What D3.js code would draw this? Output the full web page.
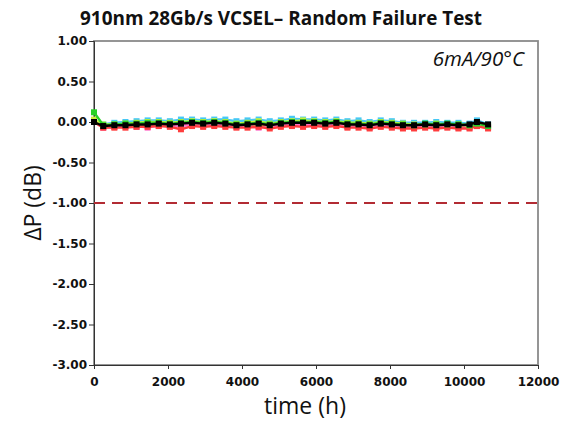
<!DOCTYPE html>
<html lang="en">
<head>
  <meta charset="UTF-8">
  <title>910nm 28Gb/s VCSEL – Random Failure Test</title>
  <style>
    body { margin: 0; background: #fff; }
    .tick text { font: bold 12px "DejaVu Sans", Arial, sans-serif; fill: #111; }
    .tick line, .domain { stroke: #333; }
    .title { font: bold 19px "Open Sans", Arial, sans-serif; fill: #111; }
    .alabel { font: 23px "Open Sans", Arial, sans-serif; fill: #111; }
    .note { font: italic 20.5px "Open Sans", Arial, sans-serif; fill: #111; }
  </style>
</head>
<body>
  <svg id="chart" width="571" height="422"></svg>

  <script src="https://d3js.org/d3.v7.min.js"></script>
  <script>
    // time points (h)
    const TIME = [0, 250, 550, 850, 1150, 1450, 1750, 2050, 2350, 2650, 2950, 3250, 3550, 3850,
      4150, 4450, 4750, 5050, 5350, 5650, 5950, 6250, 6550, 6850, 7150, 7450, 7750, 8050,
      8350, 8650, 8950, 9250, 9550, 9850, 10150, 10350, 10650];

    // ΔP (dB) per device
    const CYAN = [0.02, -0.03, -0.01, 0.00, 0.01, 0.02, 0.02, 0.01, 0.03, 0.03, 0.02, 0.03, 0.03, 0.01,
      0.02, 0.03, 0.01, 0.02, 0.04, 0.03, 0.03, 0.02, 0.03, 0.01, 0.02, 0.00, 0.02, 0.01,
      -0.01, -0.01, -0.01, 0.00, -0.01, -0.01, -0.02, 0.02, -0.03];
    const LIME = [0.03, -0.03, -0.03, -0.02, -0.01, 0.00, 0.00, -0.01, 0.00, 0.01, 0.00, 0.01, 0.00, -0.02,
      -0.01, 0.01, -0.02, 0.00, 0.01, 0.02, 0.01, 0.00, 0.01, -0.01, -0.01, -0.02, 0.00, -0.01,
      -0.02, -0.03, -0.03, -0.02, -0.03, -0.03, -0.04, -0.01, -0.04];
    const PURPLE = [0.01, -0.06, -0.05, -0.04, -0.06, -0.03, -0.05, -0.04, -0.05, -0.03, -0.04, -0.03, -0.04, -0.05,
      -0.04, -0.04, -0.05, -0.04, -0.03, -0.04, -0.03, -0.04, -0.03, -0.05, -0.05, -0.06, -0.04, -0.05,
      -0.06, -0.06, -0.05, -0.06, -0.05, -0.06, -0.06, -0.03, -0.06];
    const ORANGE = [0.00, -0.06, -0.06, -0.05, -0.04, -0.04, -0.03, -0.04, -0.03, -0.02, -0.03, -0.03, -0.04, -0.05,
      -0.05, -0.04, -0.05, -0.04, -0.03, -0.03, -0.03, -0.04, -0.03, -0.05, -0.05, -0.06, -0.04, -0.05,
      -0.05, -0.06, -0.05, -0.06, -0.05, -0.06, -0.06, -0.05, -0.06];
    const PINK = [0.00, -0.07, -0.06, -0.05, -0.05, -0.07, -0.04, -0.05, -0.04, -0.04, -0.05, -0.03, -0.04, -0.06,
      -0.05, -0.07, -0.06, -0.04, -0.04, -0.03, -0.04, -0.05, -0.03, -0.06, -0.05, -0.07, -0.04, -0.06,
      -0.07, -0.07, -0.06, -0.07, -0.06, -0.07, -0.07, -0.04, -0.07];
    const RED = [0.00, -0.07, -0.07, -0.07, -0.06, -0.06, -0.05, -0.06, -0.09, -0.05, -0.06, -0.05, -0.06, -0.07,
      -0.07, -0.06, -0.08, -0.06, -0.05, -0.06, -0.05, -0.06, -0.05, -0.07, -0.07, -0.08, -0.06, -0.07,
      -0.08, -0.08, -0.07, -0.08, -0.07, -0.08, -0.08, -0.05, -0.08];
    const GREEN = [0.12, -0.04, -0.03, -0.02, -0.02, -0.01, -0.01, -0.02, -0.01, 0.00, -0.01, 0.00, -0.01, -0.03,
      -0.02, -0.01, -0.03, -0.01, 0.00, 0.00, 0.00, -0.01, 0.00, -0.02, -0.02, -0.03, -0.01, -0.02,
      -0.03, -0.04, -0.02, -0.03, -0.02, -0.03, -0.04, -0.02, -0.05];
    const BLACK = [0.00, -0.05, -0.04, -0.04, -0.03, -0.03, -0.02, -0.03, -0.02, -0.01, -0.02, -0.01, -0.02, -0.04,
      -0.03, -0.02, -0.04, -0.02, -0.01, -0.01, -0.01, -0.02, -0.01, -0.03, -0.03, -0.04, -0.02, -0.03,
      -0.04, -0.04, -0.03, -0.04, -0.03, -0.04, -0.03, 0.00, -0.03];

    const SERIES = [
      {vals: CYAN,   color: "#45c8f5"},
      {vals: PURPLE, color: "#b49be6"},
      {vals: ORANGE, color: "#ff9a3c"},
      {vals: PINK,   color: "#ff6ec8"},
      {vals: RED,    color: "#ff3c3c"},
      {vals: LIME,   color: "#c8f03c"},
      {vals: GREEN,  color: "#28d228"},
      {vals: BLACK,  color: "#000000"}
    ];
    const X_TICKS = [0, 2000, 4000, 6000, 8000, 10000, 12000];
    const Y_TICKS = [1, 0.5, 0, -0.5, -1, -1.5, -2, -2.5, -3];
    const LIMIT = -1;

    const svg = d3.select('#chart');
    const L = 94, R = 538, T = 41, B = 365;
    const x = d3.scaleLinear().domain([0, 12000]).range([L, R]);
    const y = d3.scaleLinear().domain([-3, 1]).range([B, T]);

    // frame
    svg.append("rect").attr("x", L).attr("y", T).attr("width", R - L).attr("height", B - T)
      .attr("fill", "none").attr("stroke", "#8a8a8a").attr("stroke-width", 1.8);

    // axes (plain hyphen for negatives, as in the original)
    const yFmt = d => d.toFixed(2);
    svg.append("g").attr("transform", `translate(${L},0)`)
      .call(d3.axisLeft(y).tickValues(Y_TICKS).tickFormat(yFmt).tickSize(5).tickPadding(2))
      .call(g => g.select(".domain").attr("stroke", "#222"));
    svg.append("g").attr("transform", `translate(0,${B})`)
      .call(d3.axisBottom(x).tickValues(X_TICKS).tickFormat(d3.format("d")).tickSize(4).tickPadding(8))
      .call(g => g.select(".domain").attr("stroke", "#555"));

    // limit line
    svg.append("line").attr("x1", L).attr("x2", R + 2).attr("y1", y(LIMIT)).attr("y2", y(LIMIT))
      .attr("stroke", "#b22b33").attr("stroke-width", 2).attr("stroke-dasharray", "11,7");

    // series
    const line = d3.line().x((d, i) => x(TIME[i])).y(d => y(d));
    SERIES.forEach(s => {
      svg.append("path").attr("d", line(s.vals)).attr("fill", "none")
        .attr("stroke", s.color).attr("stroke-width", 2.4).attr("stroke-linejoin", "round");
      svg.append("g").selectAll("rect").data(s.vals).join("rect")
        .attr("x", (d, i) => x(TIME[i]) - 3).attr("y", d => y(d) - 3)
        .attr("width", 6).attr("height", 6).attr("fill", s.color);
    });

    // texts
    svg.append("text").attr("class", "title").attr("x", 281).attr("y", 25)
      .attr("text-anchor", "middle").attr("textLength", 402).attr("lengthAdjust", "spacingAndGlyphs")
      .text("910nm 28Gb/s VCSEL– Random Failure Test");
    svg.append("text").attr("class", "note").attr("x", 524).attr("y", 66)
      .attr("text-anchor", "end").text("6mA/90°C");
    svg.append("text").attr("class", "alabel").attr("x", 305).attr("y", 414)
      .attr("text-anchor", "middle").text("time (h)");
    svg.append("text").attr("class", "alabel")
      .attr("transform", `translate(41,${y(-1)}) rotate(-90)`)
      .attr("text-anchor", "middle").text("ΔP (dB)");
  </script>
</body>
</html>
